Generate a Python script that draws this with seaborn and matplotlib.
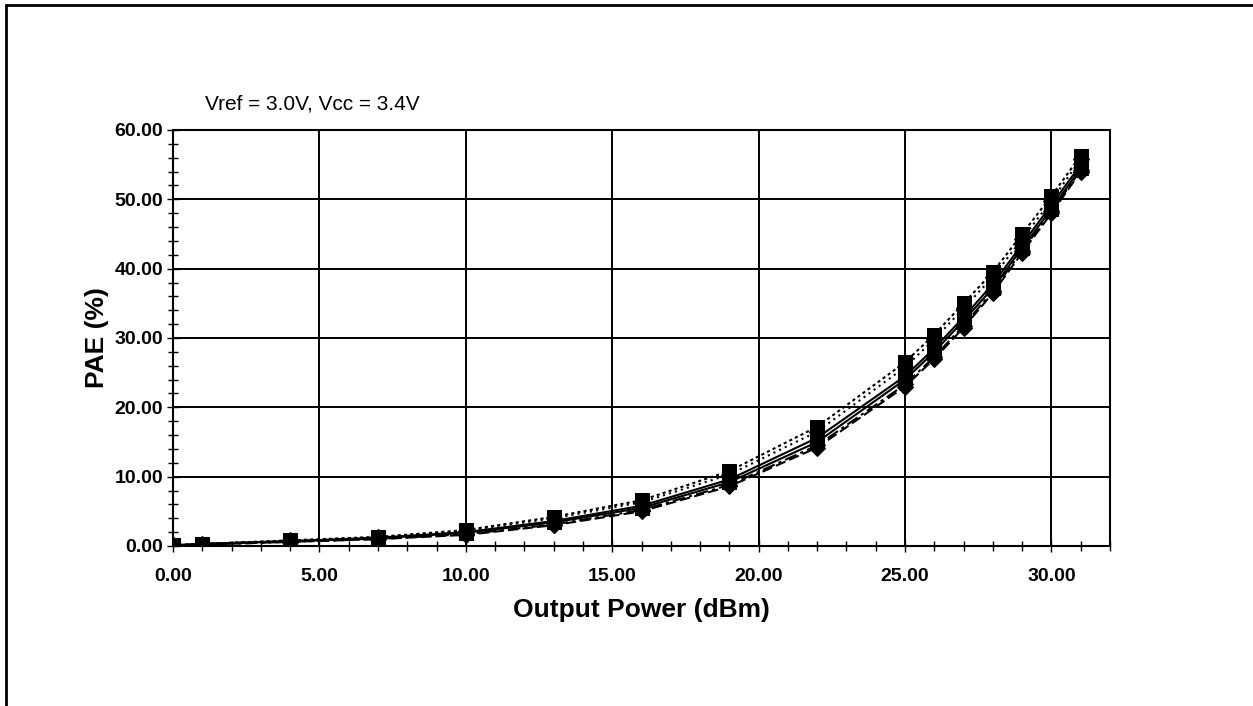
import numpy as np
import pandas as pd
import matplotlib
matplotlib.use("Agg")
import matplotlib.pyplot as plt
from matplotlib.lines import Line2D
from matplotlib.ticker import MultipleLocator, FormatStrFormatter
import seaborn as sns

# ---- data ----
output_power = [0, 1, 4, 7, 10, 13, 16, 19, 22, 25, 26, 27, 28, 29, 30, 31]
pae_s1 = [0.1, 0.3, 0.7, 1.2, 2.0, 3.6, 5.8, 9.6, 15.6, 24.5, 28.5, 33.0, 37.8, 43.5, 49.2, 55.0]
pae_s2 = [0.1, 0.3, 0.7, 1.1, 1.9, 3.4, 5.5, 9.2, 15.0, 24.0, 28.0, 32.5, 37.2, 43.0, 48.6, 54.5]
pae_s3 = [0.1, 0.3, 0.8, 1.3, 2.3, 4.2, 6.6, 10.8, 17.2, 26.5, 30.5, 35.0, 39.5, 45.0, 50.5, 56.3]
pae_s4 = [0.1, 0.3, 0.8, 1.3, 2.2, 4.0, 6.3, 10.3, 16.5, 25.8, 29.8, 34.3, 38.8, 44.3, 49.8, 55.8]
pae_s5 = [0.1, 0.2, 0.6, 1.0, 1.6, 3.0, 5.0, 8.6, 14.2, 23.0, 27.0, 31.5, 36.5, 42.3, 48.0, 54.0]
pae_s6 = [0.1, 0.2, 0.6, 1.0, 1.7, 3.1, 5.2, 8.8, 14.5, 23.3, 27.3, 31.8, 36.8, 42.6, 48.3, 54.2]
series_names = ["s1", "s2", "s3", "s4", "s5", "s6"]
series_values = [pae_s1, pae_s2, pae_s3, pae_s4, pae_s5, pae_s6]
x_ticks = [0, 5, 10, 15, 20, 25, 30]
y_ticks = [0, 10, 20, 30, 40, 50, 60]
annotation = "Vref = 3.0V, Vcc = 3.4V"

# ---- styles ----
line_styles = ["-", "-", (0, (1.5, 1.5)), (0, (1, 2)), (0, (5, 2)), (0, (6, 2, 1.5, 2))]
markers = ["s", "s", "s", "D", "D", "D"]
marker_sizes = [10, 10, 10, 8, 8, 8]

sns.set_style("white")
plt.rcParams["font.family"] = ["Liberation Sans", "DejaVu Sans"]
plt.rcParams["text.color"] = "black"
plt.rcParams["axes.labelcolor"] = "black"

fig = plt.figure(figsize=(12.53, 7.06), dpi=100)
ax = fig.add_axes([173 / 1253, 1 - 546 / 706, (1110 - 173) / 1253, (546 - 130) / 706])

for name, vals, ls, mk, ms in zip(series_names, series_values, line_styles, markers, marker_sizes):
    df = pd.DataFrame({"Output Power (dBm)": output_power, "PAE (%)": vals})
    sns.lineplot(data=df, x="Output Power (dBm)", y="PAE (%)", ax=ax,
                 color="black", linewidth=1.5, linestyle=ls,
                 marker=mk, markersize=ms, markeredgecolor="black",
                 markerfacecolor="black", zorder=3)

ax.set_xlim(0, 32)
ax.set_ylim(0, 60)
ax.set_xticks(x_ticks)
ax.set_yticks(y_ticks)
ax.xaxis.set_minor_locator(MultipleLocator(1))
ax.yaxis.set_minor_locator(MultipleLocator(2))
ax.xaxis.set_major_formatter(FormatStrFormatter("%.2f"))
ax.yaxis.set_major_formatter(FormatStrFormatter("%.2f"))

ax.grid(True, which="major", color="black", linewidth=1.4, zorder=1)
ax.grid(False, which="minor")
ax.set_axisbelow(True)
for sp in ax.spines.values():
    sp.set_color("black")
    sp.set_linewidth(1.5)

ax.tick_params(axis="both", which="both", bottom=True, left=True, top=False, right=False)
ax.tick_params(axis="both", which="major", direction="inout", length=8, width=1.0,
               labelsize=14, colors="black")
ax.tick_params(axis="x", which="major", pad=12)
ax.tick_params(axis="y", which="major", pad=3)
ax.tick_params(axis="both", which="minor", direction="inout", length=7, width=1.0, colors="black")
for lbl in ax.get_xticklabels() + ax.get_yticklabels():
    lbl.set_fontweight("bold")

ax.set_xlabel("Output Power (dBm)", fontsize=19, fontweight="bold", labelpad=9, color="black")
ax.set_ylabel("PAE (%)", fontsize=19, fontweight="bold", labelpad=4, color="black")

fig.text(205 / 1253, 1 - 104 / 706, annotation, fontsize=15, ha="left", va="center", color="black")

# figure border (top and left edges visible)
fig.add_artist(Line2D([6 / 1253, 1.0], [1 - 5 / 706, 1 - 5 / 706], color="black", linewidth=2,
                      transform=fig.transFigure))
fig.add_artist(Line2D([6 / 1253, 6 / 1253], [1 - 5 / 706, 0.0], color="black", linewidth=2,
                      transform=fig.transFigure))

fig.savefig("out.png", dpi=100)
